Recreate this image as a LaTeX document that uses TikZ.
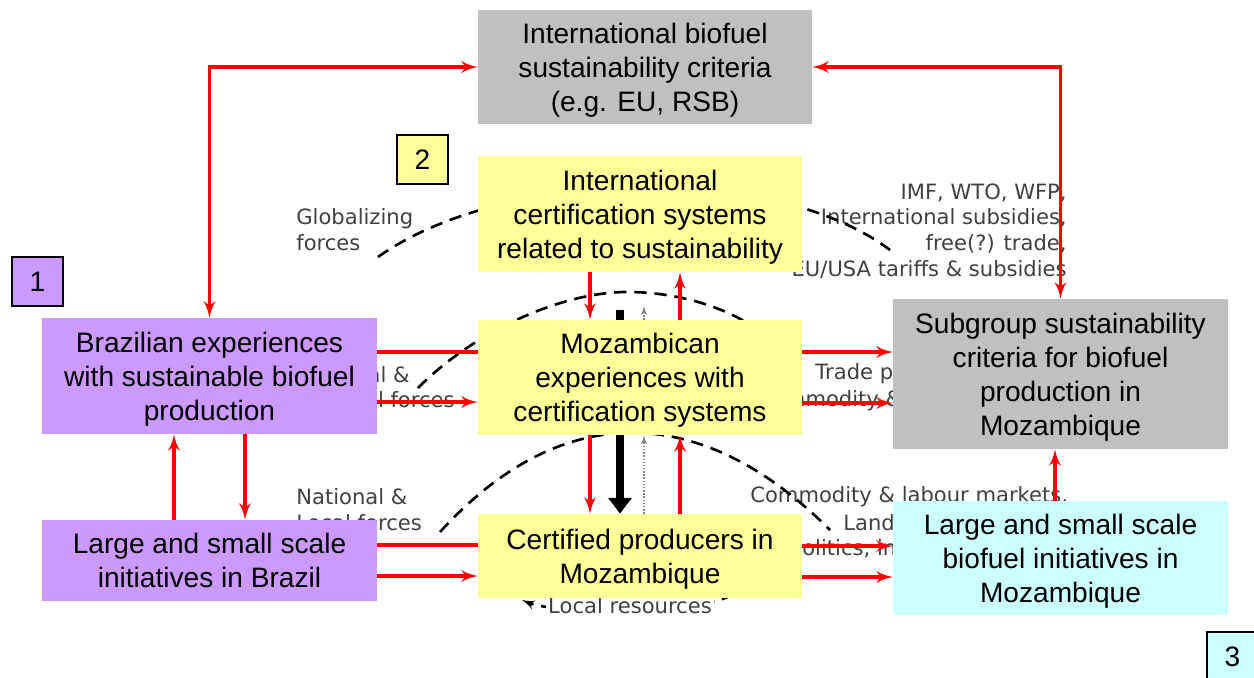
\documentclass[tikz,border=0pt]{standalone}
\usepackage{fontspec}
\setmainfont{Liberation Sans}
\newfontfamily\forcesfont{DejaVu Sans}
\usetikzlibrary{arrows, arrows.meta, backgrounds}

\definecolor{lilac}{HTML}{CC99FF}
\definecolor{paleyellow}{HTML}{FFFF99}
\definecolor{palecyan}{HTML}{CCFFFF}
\definecolor{boxgrey}{HTML}{C0C0C0}
\definecolor{forcegrey}{HTML}{404040}

\begin{document}
\begin{tikzpicture}
      [
        x=0.02cm, y=-0.02cm,
        box/.style={align=center, inner sep=0pt, text depth=-4.5pt, font=\fontsize{16}{19.3}\selectfont},
        numbox/.style={draw=black, line width=0.8pt, inner sep=0pt,
          minimum width=1.02cm, minimum height=0.98cm, font=\fontsize{16}{19.3}\selectfont},
        link/.style={red, line width=2.2pt, >=latex'},
        forcetext/.style={forcegrey, inner sep=0pt, font=\forcesfont\fontsize{12}{14.7}\selectfont},
        forcearc/.style={black, line width=1.5pt, dash pattern=on 7pt off 4.5pt, >=latex'}
      ]
      \useasboundingbox (0,0) rectangle (1254,677);
      % boxes
      \node [box, fill=boxgrey, minimum width=6.68cm, minimum height=2.28cm, text depth=-9pt] (intl) at (645,67)
        {International biofuel\\sustainability criteria\\(e.g. EU, RSB)};
      \node [box, fill=paleyellow, minimum width=6.48cm, minimum height=2.32cm] (intcert) at (640,214)
        {International\\certification systems\\related to sustainability};
      \node [box, fill=lilac, minimum width=6.7cm, minimum height=2.32cm] (brexp) at (209.5,376)
        {Brazilian experiences\\with sustainable biofuel\\production};
      \node [box, fill=paleyellow, minimum width=6.48cm, minimum height=2.3cm] (mozexp) at (640,377.5)
        {Mozambican\\experiences with\\certification systems};
      \node [box, fill=boxgrey, minimum width=6.7cm, minimum height=3cm] (subgrp) at (1060.5,374)
        {Subgroup sustainability\\criteria for biofuel\\production in\\Mozambique};
      \node [box, fill=lilac, minimum width=6.7cm, minimum height=1.62cm] (brinit) at (209.5,560.5)
        {Large and small scale\\initiatives in Brazil};
      \node [box, fill=paleyellow, minimum width=6.48cm, minimum height=1.68cm] (certprod) at (640,556)
        {Certified producers in\\Mozambique};
      \node [box, fill=palecyan, minimum width=6.7cm, minimum height=2.28cm] (mozinit) at (1060.5,558)
        {Large and small scale\\biofuel initiatives in\\Mozambique};
      \node [numbox, fill=lilac] (num1) at (37.5,281.5) {1};
      \node [numbox, fill=paleyellow] (num2) at (422.5,159.5) {2};
      \node [numbox, fill=palecyan] (num3) at (1232.5,656.5) {3};
      \begin{pgfonlayer}{background}
        \fill [white] (0,0) rectangle (1254,677);
        % forces, partly behind the boxes
        \node [forcetext, align=left, anchor=west] (glob) at (296,230) {Globalizing\\forces};
        \node [forcetext, align=right, anchor=east] (imf) at (1067,231)
          {IMF, WTO, WFP,\\International subsidies,\\free(?) trade,\\EU/USA tariffs \& subsidies};
        \node [forcetext, anchor=east] (regional) at (410,375) {al \&};
        \node [forcetext, anchor=east] (regforces) at (455,400) {l forces};
        \node [forcetext, align=left, anchor=west] (national) at (296,510) {National \&\\Local forces};
        \node [forcetext, anchor=west] (trade) at (815,374) {Trade p};
        \node [forcetext, anchor=west] (commod) at (757,401) {Commodity \&};
        \node [forcetext, anchor=west] (labour) at (750,497) {Commodity \& labour markets,};
        \node [forcetext, anchor=west] (land) at (843,523) {Land};
        \node [forcetext, anchor=west] (politics) at (790,549) {Politics, in};
        % dashed arcs
        \draw [forcearc] (378,257) .. controls (500,170) and (770,160) .. (890,250);
        \draw [forcearc] (418,388) .. controls (470,335) and (560,290) .. (633,292)
          .. controls (700,294) and (760,320) .. (790,360);
        \draw [forcearc] (440,532) .. controls (560,400) and (700,400) .. (830,530);
        \draw [forcearc,->] (733,594) .. controls (705,614) and (555,614) .. (522,600);
        \node [forcetext, fill=white, inner xsep=1pt, inner ysep=4pt] (localres) at (630,606) {Local resources};
        % flows between the levels
        \draw [black, line width=4.5pt, -{Triangle[length=9pt,width=13pt]}] (620,310) -- (certprod.north -| 620,0);
        \draw [gray, densely dotted, line width=0.8pt, ->, >=latex'] (certprod.north -| 644,0) -- (mozexp.south -| 644,0);
        \draw [gray, densely dotted, line width=0.8pt, ->, >=latex'] (mozexp.north -| 644,0) -- (644,306);
      \end{pgfonlayer}
      % red links
      \draw [link,<->] (brexp.north) |- (intl.west);
      \draw [link,<->] (subgrp.north) |- (intl.east);
      \draw [link,->] (intcert.south -| 590,0) -- (mozexp.north -| 590,0);
      \draw [link,->] (mozexp.north -| 680,0) -- (intcert.south -| 680,0);
      \draw [link,->] (mozexp.south -| 590,0) -- (certprod.north -| 590,0);
      \draw [link,->] (certprod.north -| 680,0) -- (mozexp.south -| 680,0);
      \draw [link,->] (brinit.north -| 174,0) -- (brexp.south -| 174,0);
      \draw [link,->] (brexp.south -| 245,0) -- (brinit.north -| 245,0);
      \draw [link] (brexp.east |- 0,352) -- (mozexp.west |- 0,352);
      \draw [link,->] (brexp.east |- 0,402) -- (mozexp.west |- 0,402);
      \draw [link] (brinit.east |- 0,545) -- (certprod.west |- 0,545);
      \draw [link,->] (brinit.east |- 0,576) -- (certprod.west |- 0,576);
      \draw [link,->] (mozexp.east |- 0,352) -- (subgrp.west |- 0,352);
      \draw [link,->] (mozexp.east |- 0,403) -- (subgrp.west |- 0,403);
      \draw [link,->] (certprod.east |- 0,546) -- (mozinit.west |- 0,546);
      \draw [link,->] (certprod.east |- 0,577) -- (mozinit.west |- 0,577);
      \draw [link,->] (mozinit.north -| 1055,0) -- (subgrp.south -| 1055,0);
    \end{tikzpicture}
\end{document}
